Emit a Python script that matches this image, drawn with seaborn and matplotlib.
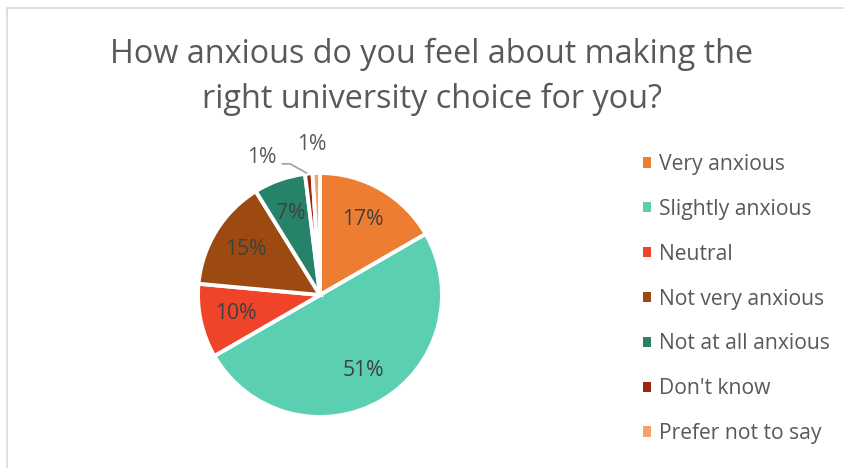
import matplotlib
matplotlib.use("Agg")
import matplotlib.pyplot as plt
from matplotlib.patches import Rectangle
from matplotlib.lines import Line2D
import numpy as np
import seaborn as sns

categories = ["Very anxious", "Slightly anxious", "Neutral", "Not very anxious",
              "Not at all anxious", "Don't know", "Prefer not to say"]
percentages = [17, 51, 10, 15, 7, 1, 1]
colors = ["#ED7D31", "#5BCFB1", "#EF4429", "#9C4A12", "#26836A", "#9E2412", "#F4A068"]
title = "How anxious do you feel about making the\nright university choice for you?"

sns.set_theme(style="white")
plt.rcParams["font.family"] = ["Open Sans", "DejaVu Sans"]
TEXT = "#595959"
LABEL = "#404040"

W, H = 845, 468
fig = plt.figure(figsize=(W / 100, H / 100), dpi=100)
fig.patch.set_facecolor("white")

# chart frame
fig.add_artist(Rectangle((7 / W, -0.1), 1.2, (H - 8) / H + 0.1, transform=fig.transFigure,
                         fill=False, edgecolor="#D9D9D9", linewidth=1.2))

cx, cy, r = 320, 295, 122
ax = fig.add_axes([(cx - r) / W, (H - cy - r) / H, 2 * r / W, 2 * r / H])
wedges, _ = ax.pie(percentages, colors=colors, startangle=90, counterclock=False,
                   radius=1, wedgeprops=dict(edgecolor="white", linewidth=2.8))
ax.set_xlim(-1, 1)
ax.set_ylim(-1, 1)
ax.set_aspect("equal")
ax.axis("off")

total = sum(percentages)
cum = 0
for v in percentages:
    mid = np.deg2rad(90 - (cum + v / 2) / total * 360)
    cum += v
    if v >= 5:
        ax.text(0.71 * np.cos(mid), 0.71 * np.sin(mid), f"{v}%", ha="center", va="center",
                fontsize=15.2, color=LABEL)

# small slices labelled outside the pie
ax.text(-0.475, 1.13, f"{percentages[5]}%", ha="center", va="center", fontsize=15.2,
        color=TEXT, clip_on=False)
ax.add_line(Line2D([-0.31, -0.245, -0.11], [1.075, 1.075, 1.0], color="#A6A6A6",
                   linewidth=1.3, clip_on=False))
ax.text(-0.066, 1.23, f"{percentages[6]}%", ha="center", va="center", fontsize=15.2,
        color=TEXT, clip_on=False)

fig.text(432 / W, 1 - 77 / H, title, ha="center", va="center", fontsize=23.3,
         color=TEXT, linespacing=1.45)

handles = [Rectangle((0, 0), 1, 1, facecolor=c, edgecolor="none") for c in colors]
leg = fig.legend(handles, categories, loc="upper left", bbox_to_anchor=(643 / W, 1 - 154 / H),
                 frameon=False, fontsize=15.2, labelcolor=TEXT, handlelength=0.38,
                 handleheight=0.38, handletextpad=0.36, labelspacing=1.13,
                 borderpad=0, borderaxespad=0)

fig.savefig("out.png", dpi=100, facecolor="white")
